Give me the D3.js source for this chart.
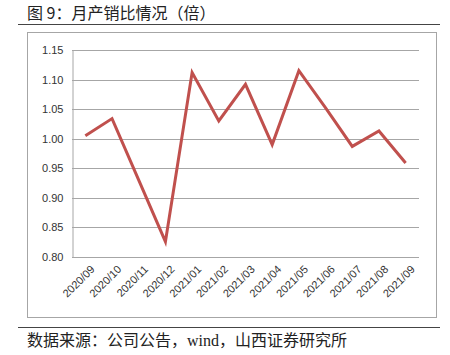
<!DOCTYPE html>
<html><head><meta charset="utf-8">
<script src="https://cdn.jsdelivr.net/npm/d3@7"></script>
<style>body{margin:0;background:#fff}svg{display:block}</style>
</head><body>
<svg id="c" width="450" height="355"></svg>
<script>
const categories = ["2020/09","2020/10","2020/11","2020/12","2021/01","2021/02","2021/03","2021/04","2021/05","2021/06","2021/07","2021/08","2021/09"];
const values = [1.005,1.034,0.930,0.826,1.112,1.030,1.092,0.990,1.115,1.052,0.987,1.013,0.959];
const yTicks = [0.80,0.85,0.90,0.95,1.00,1.05,1.10,1.15];
const titleText = "图 9：月产销比情况（倍）";
const sourceText = ["数据来源：公司公告，", "wind", "，山西证券研究所"];

const svg = d3.select("#c");
const cjk = "'Noto Sans CJK SC', sans-serif";
// title
svg.append("text").attr("x",27).attr("y",19).attr("font-family",cjk).attr("font-size",16).attr("fill","#222").text(titleText);
svg.append("line").attr("x1",18).attr("x2",440).attr("y1",24.5).attr("y2",24.5).attr("stroke","#444").attr("stroke-width",1);
// frame
svg.append("rect").attr("x",27.5).attr("y",32.5).attr("width",409).attr("height",285).attr("fill","#fff").attr("stroke","#a6a6a6").attr("stroke-width",1);

const x = d3.scaleBand().domain(categories).range([72,419]);
const y = d3.scaleLinear().domain([0.80,1.15]).range([257,50]);

const g = svg.append("g");
// grid
g.selectAll("line.grid").data(yTicks).join("line").attr("class","grid")
  .attr("x1",72).attr("x2",419).attr("y1",d=>Math.round(y(d))+0.5).attr("y2",d=>Math.round(y(d))+0.5)
  .attr("stroke","#a6a6a6").attr("stroke-width",1);
// y axis
const yAxis = d3.axisLeft(y).tickValues(yTicks).tickFormat(d3.format(".2f")).tickSize(0).tickPadding(9);
const ya = svg.append("g").attr("transform","translate(72.5,0)").call(yAxis);
ya.select(".domain").attr("stroke","#a6a6a6");
ya.selectAll("text").attr("font-family","'Liberation Sans', sans-serif").attr("font-size",11).attr("fill","#333");
// x axis labels
const xAxis = d3.axisBottom(x).tickSize(0).tickPadding(0);
const xa = svg.append("g").attr("transform","translate(0,257)").call(xAxis);
xa.select(".domain").remove();
xa.selectAll("text").attr("font-family","'Liberation Sans', sans-serif").attr("font-size",11).attr("fill","#333")
  .attr("text-anchor","end").attr("dy",0).attr("y",0)
  .attr("transform","translate(10,13) rotate(-45)");
// line
const line = d3.line().x((d,i)=>x(categories[i])+x.bandwidth()/2).y(d=>y(d));
svg.append("path").datum(values).attr("d",line).attr("fill","none").attr("stroke","#c0504d").attr("stroke-width",3).attr("stroke-linejoin","miter");
// footer
svg.append("line").attr("x1",18).attr("x2",440).attr("y1",327.5).attr("y2",327.5).attr("stroke","#444").attr("stroke-width",1);
const ft = svg.append("text").attr("x",27).attr("y",346).attr("font-family",cjk).attr("font-size",16).attr("fill","#222");
ft.append("tspan").text(sourceText[0]);
ft.append("tspan").attr("font-family","'Liberation Serif', serif").text(sourceText[1]);
ft.append("tspan").text(sourceText[2]);
</script>
</body></html>
